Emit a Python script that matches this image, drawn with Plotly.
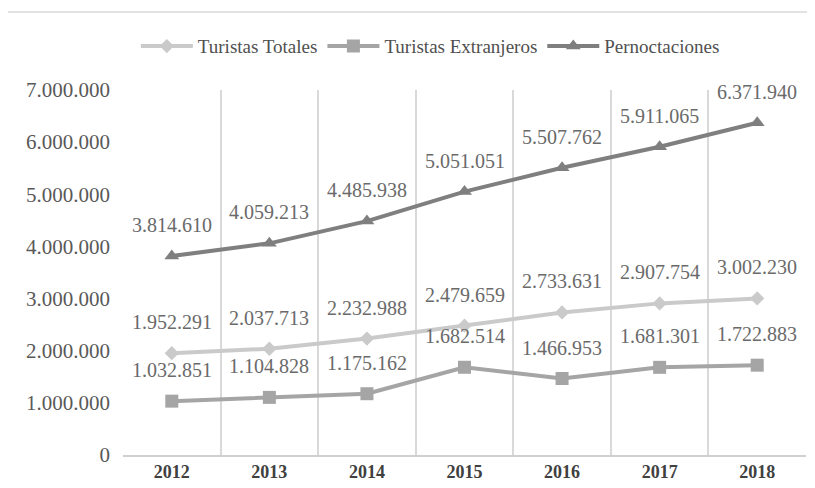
import plotly.graph_objects as go

years = ["2012", "2013", "2014", "2015", "2016", "2017", "2018"]
turistas_totales = [1952291, 2037713, 2232988, 2479659, 2733631, 2907754, 3002230]
turistas_extranjeros = [1032851, 1104828, 1175162, 1682514, 1466953, 1681301, 1722883]
pernoctaciones = [3814610, 4059213, 4485938, 5051051, 5507762, 5911065, 6371940]

series = [
    ("Turistas Totales", turistas_totales, "#cacaca", "diamond", 11),
    ("Turistas Extranjeros", turistas_extranjeros, "#a5a5a5", "square", 13),
    ("Pernoctaciones", pernoctaciones, "#7f7f7f", "triangle-up", 13),
]

FONT = "Liberation Serif"

def fmt(v):
    return f"{v:,}".replace(",", ".")

fig = go.Figure()
annotations = []
for name, vals, color, sym, size in series:
    fig.add_trace(go.Scatter(
        x=years, y=vals, name=name, mode="lines+markers",
        line=dict(color=color, width=4),
        marker=dict(symbol=sym, size=size, color=color),
    ))
    for i, v in enumerate(vals):
        annotations.append(dict(
            x=i, y=v, xref="x", yref="y", text=fmt(v), showarrow=False, yshift=31,
            xanchor="center", yanchor="middle",
            font=dict(family=FONT, size=20, color="#6a6a6a"),
        ))

fig.update_layout(
    width=807, height=480,
    paper_bgcolor="white", plot_bgcolor="white",
    margin=dict(l=115, r=9, t=82, b=33, autoexpand=False),
    separators=",.",
    font=dict(family=FONT, color="#595959"),
    legend=dict(
        orientation="h", x=0.45, xanchor="center", y=1.12, yanchor="middle",
        font=dict(family=FONT, size=19, color="#505050"),
        itemwidth=52, bgcolor="rgba(0,0,0,0)",
    ),
    annotations=annotations,
    shapes=[dict(
        type="rect", xref="paper", yref="paper",
        x0=-0.17, x1=1.02, y0=-0.2, y1=1.2137,
        line=dict(color="#d9d9d9", width=1.5), layer="below",
    )],
)
fig.update_xaxes(
    type="category", tickson="boundaries",
    showgrid=True, gridcolor="#d9d9d9", gridwidth=1.5,
    showline=True, linecolor="#d0d0d0", linewidth=1.5,
    ticks="", tickfont=dict(family=FONT, size=18, color="#404040", weight="bold"),
    range=[-0.5, 6.5], automargin=False,
)
fig.update_yaxes(
    range=[0, 7000000], dtick=1000000, tickformat=",d",
    showgrid=False, zeroline=False, showline=False, ticks="",
    ticklabelstandoff=12, automargin=False,
    tickfont=dict(family=FONT, size=21, color="#595959"),
)

fig.write_html("out.html")
